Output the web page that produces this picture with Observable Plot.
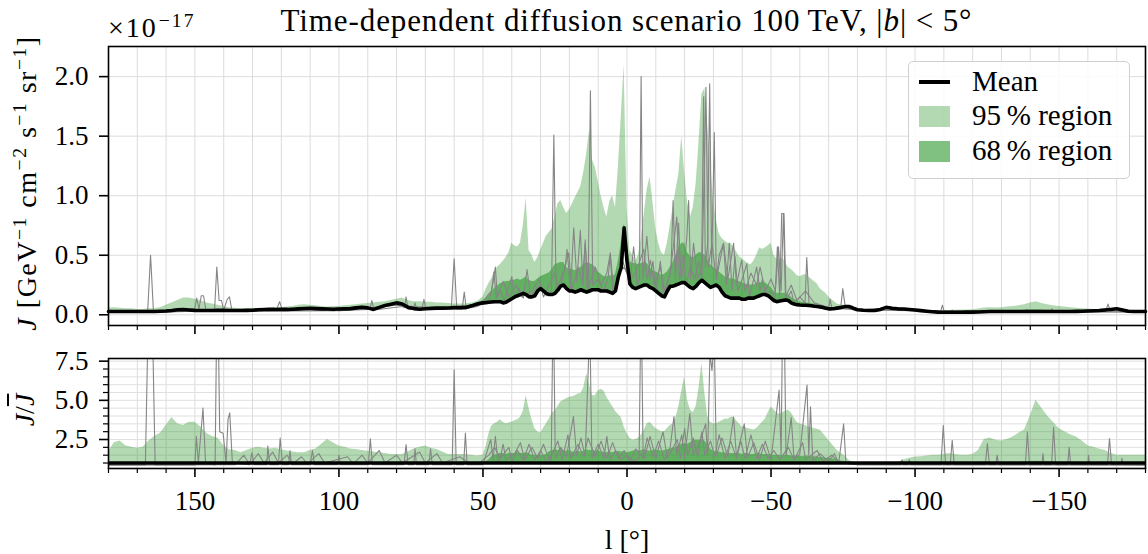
<!DOCTYPE html>
<html>
<head>
<meta charset="utf-8">
<script src="https://cdn.jsdelivr.net/npm/d3@7"></script>
<script src="https://cdn.jsdelivr.net/npm/@observablehq/plot@0.6"></script>
<style>
  body { margin: 0; background: #fff; }
  #fig { position: relative; width: 1148px; height: 554px; overflow: hidden; color: #000;
         font-family: "Liberation Serif", "DejaVu Serif", serif; }
  #fig svg { position: absolute; left: 0; }
  .abs { position: absolute; white-space: nowrap; line-height: 1; }
  .sup { font-size: 0.7em; position: relative; top: -0.5em; }
  .it { font-style: italic; }
  #legend { position: absolute; left: 908px; top: 61px; width: 220px; height: 116px;
            border: 1.5px solid #d0d0d0; border-radius: 5px; background: rgba(255,255,255,0.85); }
  .lg-key { position: absolute; left: 10px; width: 31px; }
  .lg-txt { position: absolute; left: 63px; font-size: 29px; line-height: 1; white-space: nowrap; }
</style>
</head>
<body>
<div id="fig"></div>
<script>
// ---------------- data ----------------
// longitude sample positions (deg)
const lWest = [180,178,176,174,172,170,168,166,164,162,160,158,156,154,152,150,148,146,144,142,140,138,136,134,132,130,128,126,124,122,120,118,116,114,112,110,108,106,104,102,100,98,96,94,92,90,88,86,84,82,80,78,76,74,72,70,68,66,64,62,60,58,56,54,52];
const lCenter = [50,49,48,47,46,45,44,43,42,41,40,39,38,37,36,35,34,33,32,31,30,29,28,27,26,25,24,23,22,21,20,19,18,17,16,15,14,13,12,11,10,9,8,7,6,5,4,3,2,1,0,-1,-2,-3,-4,-5,-6,-7,-8,-9,-10,-11,-12,-13,-14,-15,-16,-17,-18,-19,-20,-21,-22,-23,-24,-25,-26,-27,-28,-29,-30,-31,-32,-33,-34,-35,-36,-37,-38,-39,-40,-41,-42,-43,-44,-45,-46,-47,-48,-49,-50,-51,-52,-53,-54,-55,-56,-57,-58,-59,-60,-61,-62,-63,-64,-65,-66,-67,-68,-69,-70,-71,-72,-73,-74,-75,-76,-77,-78,-79,-80];
const lEast = [-82,-84,-86,-88,-90,-92,-94,-96,-98,-100,-102,-104,-106,-108,-110,-112,-114,-116,-118,-120,-122,-124,-126,-128,-130,-132,-134,-136,-138,-140,-142,-144,-146,-148,-150,-152,-154,-156,-158,-160,-162,-164,-166,-168,-170,-172,-174,-176,-178,-180];

// mean flux J (units of 1e-17 GeV^-1 cm^-2 s^-1 sr^-1)
const meanWest = [.028,.028,.028,.028,.028,.028,.028,.028,.028,.030,
  .032,.036,.042,.044,.040,.037,.036,.036,.036,.037,
  .037,.036,.036,.036,.037,.038,.042,.044,.045,.044,
  .045,.045,.047,.050,.053,.055,.052,.050,.048,.046,
  .048,.050,.052,.058,.064,.058,.045,.062,.078,.088,
  .100,.090,.062,.052,.046,.050,.054,.056,.056,.057,
  .060,.060,.062,.075,.090];
const meanCenter = [.100,.102,.105,.108,.110,.110,.110,.100,.105,.120,
  .135,.150,.160,.170,.180,.170,.150,.150,.160,.200,
  .220,.200,.180,.170,.170,.180,.210,.240,.250,.220,
  .200,.200,.190,.200,.210,.200,.190,.200,.210,.210,
  .210,.200,.200,.200,.190,.180,.200,.320,.400,.730,
  .450,.260,.230,.220,.230,.240,.250,.250,.230,.220,
  .200,.180,.160,.150,.200,.240,.240,.250,.260,.270,
  .270,.250,.230,.220,.240,.270,.290,.270,.250,.230,
  .240,.250,.230,.190,.160,.150,.140,.140,.140,.140,
  .130,.130,.140,.140,.140,.150,.160,.170,.170,.160,
  .140,.120,.110,.115,.120,.125,.120,.100,.090,.085,
  .082,.080,.080,.078,.076,.072,.070,.066,.062,.055,
  .050,.050,.052,.056,.060,.065,.070,.070,.062,.050,
  .042];
const meanEast = [.038,.036,.036,.045,.062,.055,.050,.048,.045,.040,
  .035,.030,.026,.022,.021,.021,.021,.021,.022,.022,
  .024,.026,.027,.028,.028,.028,.028,.028,.028,.028,
  .028,.028,.028,.028,.028,.028,.028,.029,.030,.032,
  .034,.036,.040,.045,.050,.040,.030,.028,.028,.028];

// upper edge of 95 % region
const up95West = [.055,.060,.055,.050,.050,.045,.045,.050,.050,.060,
  .080,.100,.120,.140,.140,.130,.120,.100,.090,.080,
  .070,.060,.055,.050,.050,.050,.050,.050,.055,.060,
  .060,.065,.070,.080,.085,.080,.075,.070,.065,.070,
  .070,.075,.080,.085,.090,.095,.100,.105,.110,.120,
  .130,.140,.120,.110,.110,.105,.105,.100,.100,.095,
  .090,.090,.090,.100,.110];
const up95Center = [.15,.21,.26,.30,.36,.40,.42,.45,.48,.52,
  .60,.58,.57,.60,.75,.98,.54,.50,.44,.48,
  .54,.60,.66,.69,.72,.82,.93,.96,.90,.85,
  .88,.93,.98,1.03,1.08,1.20,1.35,1.55,1.30,1.24,
  1.12,1.00,.90,.82,.95,1.00,.90,1.24,1.66,2.10,
  .90,.54,.50,.45,.50,.65,.85,1.05,1.16,.95,
  .72,.60,.52,.50,.60,.75,.90,1.05,1.18,1.50,
  1.20,.95,.82,.90,1.10,1.45,1.85,1.90,1.60,1.30,
  .95,.80,.68,.64,.62,.60,.60,.57,.53,.49,
  .47,.45,.43,.42,.45,.50,.56,.55,.56,.58,
  .60,.50,.47,.46,.48,.44,.40,.38,.36,.33,
  .32,.33,.34,.32,.30,.28,.26,.22,.20,.18,
  .15,.13,.11,.09,.085,.08,.08,.078,.07,.058,
  .048];
const up95East = [.042,.040,.040,.048,.065,.058,.053,.050,.048,.045,
  .040,.035,.030,.027,.030,.035,.038,.040,.040,.042,
  .048,.058,.060,.058,.060,.065,.070,.075,.085,.100,
  .110,.095,.085,.075,.070,.065,.060,.055,.050,.048,
  .045,.045,.048,.052,.056,.045,.036,.034,.034,.034];

// upper edge of 68 % region
const up68West = [.034,.034,.034,.034,.034,.034,.034,.034,.034,.036,
  .039,.043,.049,.051,.047,.044,.043,.043,.043,.044,
  .044,.043,.043,.043,.044,.045,.049,.051,.052,.051,
  .052,.052,.054,.057,.060,.062,.059,.057,.055,.053,
  .055,.057,.059,.065,.071,.065,.052,.069,.085,.095,
  .107,.097,.069,.059,.053,.057,.061,.063,.063,.064,
  .067,.067,.069,.083,.100];
const up68Center = [.12,.14,.16,.19,.22,.24,.26,.27,.28,.28,
  .29,.29,.30,.29,.30,.32,.29,.28,.28,.30,
  .32,.33,.34,.35,.38,.42,.43,.44,.44,.40,
  .38,.38,.37,.38,.40,.42,.44,.43,.42,.40,
  .36,.34,.32,.32,.33,.32,.34,.45,.60,.76,
  .60,.45,.43,.43,.42,.43,.44,.43,.40,.37,
  .36,.35,.33,.34,.36,.40,.44,.50,.56,.60,
  .60,.52,.49,.48,.50,.52,.52,.50,.46,.42,
  .40,.38,.36,.34,.32,.31,.30,.30,.29,.28,
  .27,.26,.25,.25,.25,.26,.27,.27,.27,.25,
  .23,.20,.18,.18,.18,.18,.17,.15,.13,.12,
  .11,.105,.10,.098,.095,.09,.085,.08,.075,.066,
  .06,.058,.06,.064,.068,.073,.078,.078,.07,.058,
  .05];
const up68East = [.046,.044,.044,.053,.070,.063,.058,.056,.053,.048,
  .043,.038,.034,.030,.029,.029,.029,.029,.030,.030,
  .032,.034,.035,.036,.036,.036,.036,.037,.038,.040,
  .042,.040,.038,.036,.036,.036,.036,.037,.038,.040,
  .042,.044,.048,.053,.058,.048,.038,.036,.036,.036];

// ratio J / Jbar : upper edges of the regions
const r95West = [1.70,2.30,2.40,2.10,2.00,1.95,2.00,2.40,2.70,2.90,
  3.40,3.90,3.50,3.40,3.60,3.60,3.30,2.90,2.70,2.60,
  2.10,1.85,1.80,1.65,1.80,1.95,2.00,1.95,1.90,1.95,
  1.85,1.76,1.70,1.66,1.66,1.80,1.90,2.20,2.50,2.30,
  2.08,2.00,1.90,1.87,1.80,1.75,1.70,1.66,1.60,1.55,
  1.55,1.55,1.70,1.90,2.00,2.08,1.95,1.87,1.70,1.55,
  1.55,1.55,1.55,1.50,1.45];
const r95Center = [1.50,2.00,2.80,3.34,3.50,3.60,3.76,3.60,3.50,3.55,
  3.60,3.70,3.76,3.90,4.30,5.30,4.50,3.76,3.20,3.00,
  2.92,3.20,3.50,3.80,4.18,4.30,4.60,4.90,5.00,5.10,
  5.20,5.23,5.30,5.40,5.44,5.80,6.70,6.00,5.30,5.30,
  5.60,5.70,5.60,5.20,4.90,4.60,4.30,4.10,3.90,3.30,
  2.90,2.60,2.45,2.50,2.60,2.80,3.10,3.50,3.60,3.40,
  3.20,3.10,3.00,3.00,3.20,3.40,3.50,3.90,4.60,5.60,
  6.50,5.00,4.40,4.20,4.60,5.80,7.35,5.50,4.00,3.60,
  3.50,3.50,3.60,3.70,3.80,3.80,3.90,3.94,3.70,3.50,
  3.30,3.25,3.20,3.15,3.10,3.20,3.40,3.60,3.80,4.20,
  4.58,4.40,4.20,4.10,4.20,4.30,4.37,4.20,3.90,3.60,
  3.50,3.45,3.40,3.30,3.25,3.20,3.15,3.10,2.90,2.70,
  2.45,2.24,2.00,1.80,1.65,1.55,1.40,1.17,1.10,1.05,
  1.02];
const r95East = [1.00,1.00,1.00,1.00,1.00,1.02,1.05,1.20,1.30,1.38,
  1.40,1.45,1.49,1.50,1.55,1.60,1.55,1.50,1.50,1.55,
  1.80,2.50,2.60,2.45,2.40,2.50,2.66,2.90,3.10,4.00,
  5.00,4.50,4.00,3.60,3.20,3.00,2.80,2.66,2.40,2.10,
  2.00,1.90,1.80,1.60,1.50,1.50,1.50,1.50,1.50,1.50];

const r68West = [1.03,1.03,1.03,1.03,1.03,1.03,1.03,1.03,1.03,1.03,
  1.03,1.03,1.03,1.03,1.03,1.03,1.03,1.03,1.03,1.03,
  1.03,1.03,1.03,1.03,1.03,1.03,1.03,1.03,1.03,1.03,
  1.03,1.03,1.03,1.03,1.03,1.03,1.03,1.03,1.03,1.03,
  1.03,1.03,1.03,1.03,1.03,1.03,1.03,1.03,1.03,1.03,
  1.03,1.03,1.03,1.03,1.03,1.03,1.03,1.03,1.03,1.03,
  1.03,1.03,1.03,1.03,1.03];
const r68Center = [1.05,1.10,1.20,1.40,1.50,1.55,1.60,1.60,1.55,1.60,
  1.60,1.60,1.65,1.60,1.60,1.65,1.60,1.50,1.50,1.45,
  1.50,1.50,1.55,1.70,1.80,1.85,1.80,1.85,1.80,1.75,
  1.80,1.70,1.70,1.75,1.70,1.75,1.85,1.80,1.80,1.75,
  1.80,1.70,1.70,1.65,1.70,1.65,1.70,1.75,1.70,1.70,
  1.65,1.70,1.75,1.80,1.75,1.80,1.85,1.80,1.75,1.80,
  1.85,1.80,1.75,1.80,1.85,1.90,1.95,2.00,2.10,2.20,
  2.25,2.20,2.30,2.40,2.45,2.45,2.50,2.40,2.20,1.90,
  1.75,1.70,1.70,1.65,1.65,1.60,1.60,1.60,1.60,1.60,
  1.55,1.60,1.60,1.55,1.55,1.60,1.60,1.55,1.55,1.55,
  1.50,1.50,1.50,1.50,1.45,1.50,1.50,1.45,1.45,1.45,
  1.45,1.40,1.45,1.45,1.40,1.40,1.40,1.35,1.35,1.30,
  1.30,1.25,1.25,1.20,1.15,1.12,1.10,1.05,1.04,1.03,
  1.02];
const r68East = [1.02,1.02,1.02,1.02,1.02,1.02,1.02,1.02,1.02,1.02,
  1.02,1.02,1.02,1.02,1.02,1.02,1.02,1.02,1.02,1.02,
  1.02,1.02,1.02,1.02,1.02,1.02,1.03,1.04,1.06,1.10,
  1.12,1.10,1.08,1.06,1.04,1.03,1.02,1.02,1.02,1.02,
  1.02,1.02,1.02,1.02,1.02,1.02,1.02,1.02,1.02,1.02];

// individual realisations (grey), [l, J]
const sampleA = [[180,.022],[168,.022],[166.4,.03],[165.4,.50],[164.4,.03],[162,.022],[150.2,.03],[149.4,.14],[148.6,.05],[147.8,.16],[147,.16],[146.2,.04],[143.2,.03],[142.4,.40],[141.6,.12],[140.8,.12],[140,.04],[138.8,.13],[138,.15],[137.2,.04],[124,.035],[122.7,.06],[121.8,.035],[120.6,.11],[119.6,.035],[111,.04],[110,.06],[109,.04],[101.5,.035],[100.8,.06],[100,.035],[90,.045],[89.2,.05],[88.6,.12],[87.8,.04],[78,.07],[77.2,.06],[76.7,.15],[76,.05],[74.2,.045],[73.6,.10],[73,.045],[71.2,.045],[70.5,.13],[69.8,.045],[61,.05],[60,.47],[59.1,.05],[57.2,.05],[56.5,.19],[55.8,.05],[52,.08],
  [50,.09],[48,.12],[47,.2],[46.2,.36],[45.4,.14],[44,.2],[42.5,.12],[40,.32],[39,.14],[37.5,.22],[36,.14],[34.7,.38],[33.5,.15],[31.5,.22],[30,.25],[28,.16],[26.2,.2],[25.4,1.51],[24.6,.2],[23,.3],[21.5,.4],[20.8,.55],[19.6,.2],[18.5,.73],[17.4,.28],[16.2,.71],[15.4,.3],[14.5,.6],[13.5,.2],[12.7,1.88],[11.9,.25],[10,.3],[8.2,.2],[6.6,.3],[5.8,.5],[5,.2],[3,.3],[1.5,.45],[0,.35],[-1,.25],[-2.3,.57],[-3.6,.24],[-4.3,.3],[-4.9,2.0],[-5.5,.3],[-6.9,.66],[-8,.3],[-9,.45],[-10,.2],[-11.6,.45],[-12.6,.15],[-14,.25],[-15.3,.4],[-16,.96],[-16.8,.3],[-17.9,.77],[-18.8,.3],[-20,.45],[-20.8,.66],[-21.4,.96],[-22.1,.3],[-23.1,.6],[-24.5,.3],[-25.9,.4],[-26.6,1.83],[-27.2,.4],[-28,.6],[-28.7,1.94],[-29.4,.4],[-30.3,1.53],[-31,.3],[-32,.5],[-33.5,.6],[-34.5,.25],[-35.5,.6],[-36.5,.2],[-37.5,.49],[-38.5,.2],[-40,.3],[-41.6,.43],[-42.5,.15],[-44,.3],[-45,.4],[-46.2,.2],[-47,.3],[-48,.18],[-50,.2],[-51.4,.15],[-52.2,.57],[-53,.15],[-53.7,.85],[-54.5,.85],[-55.2,.12],[-57,.2],[-58,.1],[-60,.15],[-61.8,.1],[-62.4,.48],[-63.2,.09],[-66,.07],[-70,.06],[-70.5,.13],[-71.2,.05],[-74.2,.06],[-74.9,.22],[-75.8,.06],[-80,.04],
  [-90,.055],[-100,.035],[-108.8,.02],[-109.5,.08],[-110.2,.02],[-112.4,.02],[-112.9,.04],[-113.5,.02],[-138.2,.026],[-138.8,.045],[-139.4,.026],[-147,.026],[-147.5,.05],[-148,.026],[-166.2,.03],[-167,.09],[-167.8,.03],[-180,.025]];
const sampleB = [[180,.02],[150,.03],[130,.03],[100,.035],[80,.08],[62,.05],[56,.05],[52,.07],[50,.1],[48.5,.16],[47,.2],[45.7,.4],[45,.15],[43,.28],[41,.15],[38.5,.25],[36.5,.15],[33,.2],[30.5,.3],[29,.15],[27,.25],[25,.35],[23.5,.2],[21,.45],[20.2,.52],[19.2,.2],[17,.4],[15.3,.25],[14.5,.63],[13.8,.2],[11,.4],[9,.25],[7,.35],[5.8,.52],[4.6,.2],[3,.35],[1,.4],[-1,.3],[-3,.35],[-5.8,.55],[-7,.3],[-8.1,.46],[-9.5,.25],[-11.6,.4],[-13,.2],[-15,.35],[-17.3,.82],[-18.2,.3],[-19.5,.5],[-20.5,.25],[-22,.4],[-23.5,.3],[-25,.45],[-26,.3],[-27.4,1.91],[-28.2,.4],[-29.5,.6],[-31,.3],[-33.5,.6],[-35,.3],[-37,.6],[-38,.25],[-39.8,.46],[-41,.2],[-43,.35],[-45,.25],[-46.2,.4],[-48,.2],[-50,.3],[-51.5,.2],[-52.6,.57],[-53.5,.2],[-54.3,.85],[-55,.15],[-57,.25],[-59,.12],[-62,.2],[-65,.1],[-70,.06],[-80,.04],[-100,.035],[-140,.024],[-180,.022]];

// the same realisations as ratio J / Jbar
const ratioA = [[180,.88],[167.2,.88],[165.5,17],[163.8,.88],[150,.88],[149.5,2.7],[148.8,1.0],[147.2,4.5],[146.3,1.0],[143,.88],[142.2,14],[141.4,3],[140.2,2.9],[139.2,1.0],[138.5,3.8],[137.9,4.2],[137,1.0],[131,.9],[130.2,1.66],[129.5,.9],[125,.9],[124.7,2.08],[124,.9],[121,.9],[120.4,2.6],[119.6,.9],[117.5,.9],[117,1.8],[116.5,.9],[110,.9],[109.2,1.8],[108.5,.9],[100.5,.9],[100,1.5],[99.5,.9],[89.8,.9],[89.1,2.54],[88.4,.9],[77.4,.9],[76.7,2.18],[76,.9],[74,.9],[73.6,1.9],[73.1,.9],[68.8,.9],[68.2,1.9],[67.6,.9],[60.7,.9],[60,6.95],[59.3,.9],[56.7,.9],[56.1,2.92],[55.5,.9],[50,.9],
  [47.3,2.5],[46.5,1.2],[45.7,2.7],[44.8,1.1],[41,2.0],[40,1.1],[38,1.8],[36,1.2],[34,2.2],[32,1.2],[30,1.8],[28,1.1],[26.3,1.2],[25.6,12],[24.9,1.3],[23,2.0],[21,1.4],[18.6,3.97],[17.5,1.5],[16,2.6],[14.5,1.4],[12.9,10],[12.2,1.3],[10,2.2],[8,1.3],[7,2.7],[6,1.2],[4,1.8],[2,1.2],[0,1.5],[-2,1.1],[-4.2,1.3],[-4.9,12],[-5.6,1.3],[-7,2.6],[-9,1.4],[-11,2.4],[-13,1.2],[-15,2.0],[-16.3,3.97],[-17.3,1.5],[-19,2.8],[-20,1.3],[-21.8,4.16],[-23,1.5],[-25,2.2],[-27.3,3.5],[-28,1.5],[-28.8,8],[-29.5,6.9],[-30.3,9],[-31,1.5],[-33,2.6],[-35,1.4],[-37,3.94],[-38,1.4],[-40.7,3.5],[-41.8,1.3],[-44,2.3],[-46,1.2],[-48,2.4],[-50,1.2],[-52.8,5.65],[-53.5,1.5],[-54,10],[-54.6,10],[-55.2,1.4],[-57,3.9],[-58,1.2],[-60,1.6],[-62.5,5.97],[-63.1,1.5],[-63.7,4.58],[-64.5,1.1],[-67,1.6],[-70,1.1],[-72,1.6],[-73.5,1.0],[-75.2,3.5],[-76,1.0],[-80,.9],
  [-95,.9],[-95.5,1.2],[-96,.9],[-97.5,.9],[-98,1.2],[-98.5,.9],[-109,.9],[-109.8,3.4],[-110.6,.9],[-112.2,.9],[-112.9,2.45],[-113.6,.9],[-124.4,.9],[-125.1,2.24],[-125.8,.9],[-128,.9],[-128.5,1.5],[-129,.9],[-138.3,.9],[-139,2.98],[-139.7,.9],[-144,.9],[-144.4,1.6],[-144.8,.9],[-147.4,.9],[-148.1,3.3],[-148.8,.9],[-153,.9],[-153.5,2.0],[-154,.9],[-160,.9],[-160.2,1.5],[-160.6,.9],[-166.8,.9],[-167.5,2.56],[-168.2,.9],[-171.5,.9],[-171.8,1.3],[-172.2,.9],[-180,.88]];
const ratioB = [[180,.86],[136,.9],[133,1.5],[131,.9],[128,1.6],[126,1.0],[123,1.7],[121,1.0],[118,1.5],[116,.95],[113,1.4],[111,.95],[107,1.6],[105,1.0],[97,1.4],[95,.95],[92,1.5],[90,1.0],[86,1.8],[84,1.0],[80,1.5],[78,1.0],[72,1.7],[70,1.0],[66,1.6],[64,1.0],[58,1.4],[55,1.0],[52,.9],
  [48,1.5],[46,2.0],[44,1.3],[43,2.2],[42,1.2],[39,1.6],[37,2.3],[35.5,1.2],[33,2.0],[31,1.3],[29,2.2],[27,1.2],[24,2.4],[22.5,1.2],[20.5,2.8],[19.5,1.3],[17,2.2],[15,1.4],[13.5,2.6],[11,1.4],[9,2.4],[7,1.3],[5,2.3],[3,1.3],[1,1.8],[-1,1.1],[-3,1.9],[-6,1.3],[-8,2.7],[-10,1.3],[-12.5,3.0],[-14,1.3],[-17.5,2.5],[-18.5,1.3],[-20,3.2],[-21,1.5],[-23,2.6],[-24.5,1.4],[-26,3.0],[-27,1.5],[-29,2.4],[-30.5,1.4],[-32,2.8],[-34,1.3],[-36,2.4],[-38,1.3],[-39.5,2.4],[-41,1.3],[-43,2.8],[-45,1.3],[-47,2.2],[-49,1.3],[-51,1.8],[-53,1.2],[-56,2.0],[-58,1.2],[-61,2.3],[-62,1.2],[-66,1.8],[-68,1.1],[-71,1.5],[-74,1.0],[-80,.9],[-180,.86]];

// ticks
const xMajorTicks = [150,100,50,0,-50,-100,-150];
const xMinorTicks = [180,170,160,140,130,120,110,90,80,70,60,40,30,20,10,-10,-20,-30,-40,-60,-70,-80,-90,-110,-120,-130,-140,-160,-170,-180];
const xGridTicks = [170,160,150,140,130,120,110,100,90,80,70,60,50,40,30,20,10,0,-10,-20,-30,-40,-50,-60,-70,-80,-90,-100,-110,-120,-130,-140,-150,-160,-170];
const yTopTicks = [0,0.5,1,1.5,2];
const yBotTicks = [2.5,5,7.5];
const yBotMinor = [1,1.5,2,3,3.5,4,4.5,5.5,6,6.5,7];
const yBotGrid = [1,1.5,2,2.5,3,3.5,4,4.5,5,5.5,6,6.5,7,7.5];

// ---------------- build ----------------
const FONT = '"Liberation Serif", "DejaVu Serif", serif';
const GREEN = "rgb(44,150,44)";
const fig = document.getElementById("fig");

function check(name, a, b) { if (a.length !== b.length) throw new Error(name + " length " + a.length + " != " + b.length); }
[["meanWest",meanWest,lWest],["up95West",up95West,lWest],["up68West",up68West,lWest],["r95West",r95West,lWest],["r68West",r68West,lWest],
 ["meanCenter",meanCenter,lCenter],["up95Center",up95Center,lCenter],["up68Center",up68Center,lCenter],["r95Center",r95Center,lCenter],["r68Center",r68Center,lCenter],
 ["meanEast",meanEast,lEast],["up95East",up95East,lEast],["up68East",up68East,lEast],["r95East",r95East,lEast],["r68East",r68East,lEast]].forEach(([n,a,b]) => check(n,a,b));

const L = lWest.concat(lCenter, lEast);
const meanJ = meanWest.concat(meanCenter, meanEast);
const up95 = up95West.concat(up95Center, up95East);
const up68 = up68West.concat(up68Center, up68East);
const r95 = r95West.concat(r95Center, r95East);
const r68 = r68West.concat(r68Center, r68East);
const rows = L.map((l, i) => ({l, mean: meanJ[i], up95: up95[i], up68: up68[i], r95: r95[i], r68: r68[i]}));

const fmtX = d => d < 0 ? "\u2212" + Math.abs(d) : String(d);
const gridStyle = {stroke: "#dcdcdc", strokeOpacity: 1, strokeWidth: 1};
const axisStyle = {fontFamily: FONT, fontSize: "27px", color: "black", background: "transparent", overflow: "visible"};

const topPlot = Plot.plot({
  width: 1148, height: 340,
  marginTop: 46, marginBottom: 15, marginLeft: 108, marginRight: 3,
  x: {domain: [180, -180]},
  y: {domain: [-0.09, 2.253]},
  style: axisStyle,
  marks: [
    Plot.gridX(xGridTicks, gridStyle),
    Plot.gridY(yTopTicks, gridStyle),
    Plot.areaY(rows, {x: "l", y1: "mean", y2: "up95", fill: GREEN, fillOpacity: 0.36}),
    Plot.areaY(rows, {x: "l", y1: "mean", y2: "up68", fill: GREEN, fillOpacity: 0.6}),
    Plot.line(sampleA, {x: d => d[0], y: d => d[1], stroke: "#858585", strokeWidth: 1.1, clip: true}),
    Plot.line(sampleB, {x: d => d[0], y: d => d[1], stroke: "#858585", strokeWidth: 1.1, clip: true}),
    Plot.line(rows, {x: "l", y: "mean", stroke: "black", strokeWidth: 3.6, strokeLinejoin: "round"}),
    Plot.frame({stroke: "black", strokeWidth: 1.6}),
    Plot.axisY(yTopTicks, {tickSize: 9, tickPadding: 11, tickFormat: d3.format(".1f"), strokeWidth: 1.6, label: null}),
    Plot.axisX(xMajorTicks, {tickSize: 9, tickFormat: () => "", strokeWidth: 1.6, label: null}),
    Plot.axisX(xMinorTicks, {tickSize: 5, tickFormat: () => "", strokeWidth: 1.2, label: null})
  ]
});
topPlot.style.top = "0px";
fig.appendChild(topPlot);

const botPlot = Plot.plot({
  width: 1148, height: 214,
  marginTop: 18, marginBottom: 86, marginLeft: 108, marginRight: 3,
  x: {domain: [180, -180]},
  y: {domain: [0.65, 7.67]},
  style: axisStyle,
  marks: [
    Plot.gridX(xGridTicks, gridStyle),
    Plot.gridY(yBotGrid, {stroke: "#e0e0e0", strokeOpacity: 1, strokeWidth: 1}),
    Plot.areaY(rows, {x: "l", y1: 1, y2: "r95", fill: GREEN, fillOpacity: 0.36, clip: true}),
    Plot.areaY(rows, {x: "l", y1: 1, y2: "r68", fill: GREEN, fillOpacity: 0.6, clip: true}),
    Plot.line(ratioA, {x: d => d[0], y: d => d[1], stroke: "#858585", strokeWidth: 1.1, clip: true}),
    Plot.line(ratioB, {x: d => d[0], y: d => d[1], stroke: "#858585", strokeWidth: 1.1, clip: true}),
    Plot.ruleY([1], {stroke: "black", strokeWidth: 3.6}),
    Plot.frame({stroke: "black", strokeWidth: 1.6}),
    Plot.axisY(yBotTicks, {tickSize: 9, tickPadding: 11, tickFormat: d3.format(".1f"), strokeWidth: 1.6, label: null}),
    Plot.axisY(yBotMinor, {tickSize: 5, tickFormat: () => "", strokeWidth: 1.2, label: null}),
    Plot.axisX(xMajorTicks, {tickSize: 9, tickPadding: 13, tickFormat: fmtX, strokeWidth: 1.6, label: null}),
    Plot.axisX(xMinorTicks, {tickSize: 5, tickFormat: () => "", strokeWidth: 1.2, label: null})
  ]
});
botPlot.style.top = "340px";
fig.appendChild(botPlot);

// ---------------- text overlays ----------------
function addDiv(html, css) {
  const d = document.createElement("div");
  d.className = "abs";
  d.innerHTML = html;
  Object.assign(d.style, css);
  fig.appendChild(d);
  return d;
}
addDiv('Time-dependent diffusion scenario 100\u2009TeV, |<span class="it">b</span>| &lt; 5°',
  {left: "108px", width: "1037px", textAlign: "center", top: "5px", fontSize: "31px", letterSpacing: "0.9px"});
addDiv('×10<span class="sup" style="margin-left:1px">\u221217</span>', {left: "108px", top: "14px", fontSize: "28px", letterSpacing: "2px"});
addDiv('<span class="it">J</span> [GeV<span class="sup">\u22121</span> cm<span class="sup">\u22122</span> s<span class="sup">\u22121</span> sr<span class="sup">\u22121</span>]',
  {left: "27px", top: "183px", fontSize: "28px", letterSpacing: "1.5px", transform: "translate(-50%,-50%) rotate(-90deg)"});
addDiv('<span class="it">J</span>/<span class="it" style="text-decoration: overline;">J</span>',
  {left: "25px", top: "410px", fontSize: "28px", transform: "translate(-50%,-50%) rotate(-90deg)"});
addDiv('l [°]', {left: "627px", top: "540px", fontSize: "28px", transform: "translate(-50%,-50%)"});

// legend
const lg = document.createElement("div");
lg.id = "legend";
lg.innerHTML =
  '<div class="lg-key" style="top:18px;height:3.5px;background:#000"></div><div class="lg-txt" style="top:5px">Mean</div>' +
  '<div class="lg-key" style="top:44px;height:21px;background:rgba(44,150,44,0.36)"></div><div class="lg-txt" style="top:39px">95\u2009% region</div>' +
  '<div class="lg-key" style="top:79px;height:21px;background:rgba(44,150,44,0.6)"></div><div class="lg-txt" style="top:74px">68\u2009% region</div>';
fig.appendChild(lg);
</script>
</body>
</html>
